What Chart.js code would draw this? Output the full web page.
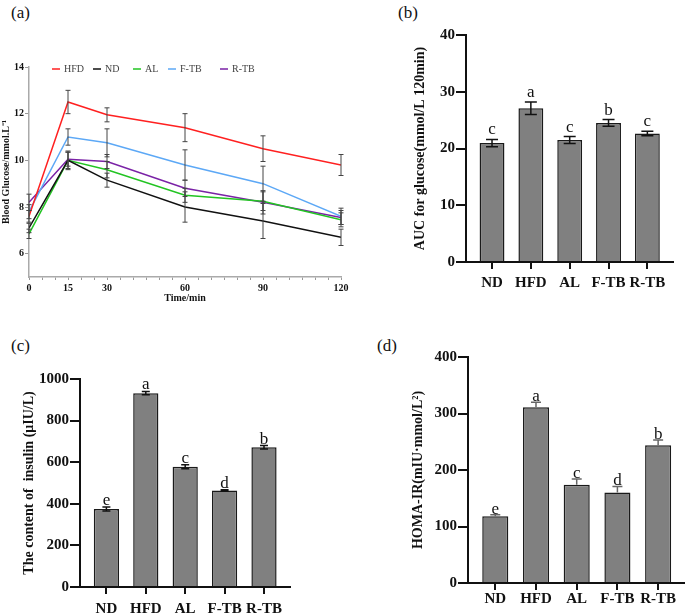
<!DOCTYPE html>
<html>
<head>
<meta charset="utf-8">
<script src="https://cdn.jsdelivr.net/npm/chart.js"></script>
<style>
  body { margin: 0; width: 685px; height: 616px; background: #fff; position: relative; overflow: hidden; font-family: "Liberation Serif", serif; }
  canvas { position: absolute; }
  .lab { position: absolute; font-size: 17px; color: #111; line-height: 1; }
</style>
</head>
<body>
<div class="lab" style="left:11px;top:4px">(a)</div>
<div class="lab" style="left:398px;top:4px">(b)</div>
<div class="lab" style="left:11px;top:337px">(c)</div>
<div class="lab" style="left:377px;top:337px">(d)</div>

<canvas id="chartA" width="355" height="256" style="left:0;top:50px"></canvas>
<canvas id="chartB" width="345" height="285" style="left:340px;top:20px"></canvas>
<canvas id="chartC" width="340" height="256" style="left:0;top:360px"></canvas>
<canvas id="chartD" width="345" height="276" style="left:340px;top:340px"></canvas>

<script>
// ---- data ----
const groups = ["ND", "HFD", "AL", "F-TB", "R-TB"];

// (a) OGTT
const times = [0, 15, 30, 60, 90, 120];
const timeTicks = [0, 15, 30, 60, 90, 120];
const glucoseTicks = [6, 8, 10, 12, 14];
const glucHFD = [7.6, 12.5, 11.95, 11.4, 10.5, 9.8];
const glucND = [7.1, 10.0, 9.15, 8.0, 7.4, 6.7];
const glucAL = [6.85, 10.0, 9.6, 8.5, 8.25, 7.45];
const glucFTB = [7.8, 11.0, 10.75, 9.8, 9.0, 7.6];
const glucRTB = [8.2, 10.05, 9.95, 8.8, 8.2, 7.55];
const errHFD = [0.25, 0.5, 0.3, 0.6, 0.55, 0.45];
const errND = [0.2, 0.35, 0.3, 0.65, 0.75, 0.35];
const errAL = [0.2, 0.4, 0.35, 0.3, 0.4, 0.3];
const errFTB = [0.3, 0.35, 0.6, 0.65, 0.75, 0.35];
const errRTB = [0.35, 0.3, 0.3, 0.35, 0.5, 0.3];

// (b) AUC
const aucVals = [20.95, 27.1, 21.5, 24.5, 22.65];
const aucErr = [0.65, 1.1, 0.6, 0.6, 0.4];
const aucLetters = ["c", "a", "c", "b", "c"];
const aucTicks = [0, 10, 20, 30, 40];

// (c) insulin
const insVals = [375, 932, 578, 464, 672];
const insErr = [10, 8, 10, 3, 8];
const insLetters = ["e", "a", "c", "d", "b"];
const insTicks = [0, 200, 400, 600, 800, 1000];

// (d) HOMA-IR
const homaVals = [118, 311, 174, 160, 244];
const homaErr = [3, 9, 10, 11, 9];
const homaLetters = ["e", "a", "c", "d", "b"];
const homaTicks = [0, 100, 200, 300, 400];

// ---- plugins ----
const errorBars = {
  id: "errorBars",
  afterDatasetsDraw(chart, args, opts) {
    const ctx = chart.ctx;
    const yS = chart.scales.y;
    ctx.save();
    ctx.strokeStyle = opts.color || "#000";
    ctx.lineWidth = opts.width || 1;
    chart.data.datasets.forEach((ds, di) => {
      if (!ds.errors) return;
      const meta = chart.getDatasetMeta(di);
      meta.data.forEach((el, i) => {
        const v = ds.data[i].y, e = ds.errors[i];
        const x = el.x;
        const top = yS.getPixelForValue(v + e);
        const bot = yS.getPixelForValue(opts.upperOnly ? v : v - e);
        const c = opts.cap || 4;
        ctx.beginPath();
        ctx.moveTo(x, top); ctx.lineTo(x, bot);
        ctx.moveTo(x - c, top); ctx.lineTo(x + c, top);
        if (!opts.upperOnly) { ctx.moveTo(x - c, bot); ctx.lineTo(x + c, bot); }
        ctx.stroke();
      });
    });
    ctx.restore();
  }
};

const sigLetters = {
  id: "sigLetters",
  afterDatasetsDraw(chart, args, opts) {
    const ctx = chart.ctx;
    const yS = chart.scales.y;
    ctx.save();
    ctx.fillStyle = "#111";
    ctx.font = (opts.size || 17) + 'px "Liberation Serif"';
    ctx.textAlign = "center";
    ctx.textBaseline = "alphabetic";
    chart.data.datasets.forEach((ds, di) => {
      if (!ds.letters) return;
      const meta = chart.getDatasetMeta(di);
      meta.data.forEach((el, i) => {
        const y = yS.getPixelForValue(ds.data[i].y + ds.errors[i]) - (opts.gap || 3);
        ctx.fillText(ds.letters[i], el.x, y);
      });
    });
    ctx.restore();
  }
};

const lineLegend = {
  id: "lineLegend",
  afterDraw(chart, args, opts) {
    if (!opts.xs) return;
    const ctx = chart.ctx;
    ctx.save();
    ctx.font = '10px "Liberation Serif"';
    ctx.textBaseline = "middle";
    ctx.fillStyle = "#444";
    chart.data.datasets.forEach((ds, i) => {
      const x = opts.xs[i];
      ctx.strokeStyle = ds.borderColor;
      ctx.lineWidth = 1.5;
      ctx.beginPath(); ctx.moveTo(x, opts.y); ctx.lineTo(x + 8, opts.y); ctx.stroke();
      ctx.fillText(ds.label, x + 12, opts.y);
    });
    ctx.restore();
  }
};

// ---- (a) ----
const pts = arr => times.map((t, i) => ({ x: t, y: arr[i] }));
const lineSet = (label, arr, err, color) => ({
  label, data: pts(arr), errors: err, borderColor: color, backgroundColor: color,
  borderWidth: 1.5, pointRadius: 0, tension: 0, fill: false
});

new Chart(document.getElementById("chartA"), {
  type: "line",
  plugins: [errorBars, lineLegend],
  data: {
    datasets: [
      lineSet("HFD", glucHFD, errHFD, "#ff2020"),
      lineSet("ND", glucND, errND, "#111111"),
      lineSet("AL", glucAL, errAL, "#22c422"),
      lineSet("F-TB", glucFTB, errFTB, "#5ca8f6"),
      lineSet("R-TB", glucRTB, errRTB, "#7a22a6"),
    ],
  },
  options: {
    responsive: false,
    animation: false,
    layout: { padding: { top: 17, right: 14, left: 0, bottom: 0 } },
    plugins: {
      legend: { display: false },
      tooltip: { enabled: false },
      errorBars: { color: "#444", width: 1, cap: 2.5 },
      lineLegend: { xs: [52, 93, 133, 168, 220], y: 19 },
    },
    scales: {
      x: {
        type: "linear", min: 0, max: 120,
        afterBuildTicks: s => { const t = []; for (let v = 0; v <= 120; v += 5) t.push({ value: v }); s.ticks = t; },
        afterFit: s => { s.height = 29; },
        ticks: {
          autoSkip: false, maxRotation: 0, padding: 2, color: "#111",
          font: { family: "Liberation Serif", size: 10, weight: "bold" },
          callback: v => (timeTicks.includes(v) ? String(v) : ""),
        },
        grid: { drawOnChartArea: false, tickLength: 3, color: "#999" },
        border: { color: "#aaa", width: 1.5 },
        title: { display: true, text: "Time/min", color: "#111", padding: { top: 0, bottom: 2 },
          font: { family: "Liberation Serif", size: 10, weight: "bold" } },
      },
      y: {
        min: 5, max: 14,
        afterBuildTicks: s => { s.ticks = glucoseTicks.map(v => ({ value: v })); },
        afterFit: s => { s.width = 29; },
        ticks: { padding: 1, color: "#111", font: { family: "Liberation Serif", size: 10, weight: "bold" },
          callback: v => String(v) },
        grid: { drawOnChartArea: false, tickLength: 4, color: "#999" },
        border: { color: "#aaa", width: 1.5 },
        title: { display: true, text: "Blood Glucose/mmol.L\u207B\u00B9", color: "#111", padding: 0,
          font: { family: "Liberation Serif", size: 10, weight: "bold" } },
      },
    },
  },
});

// ---- bar panels ----
function barPanel(id, vals, errs, letters, yTicks, yTitle, cfg) {
  return new Chart(document.getElementById(id), {
    type: "bar",
    plugins: [errorBars, sigLetters],
    data: {
      datasets: [{
        data: vals.map((v, i) => ({ x: i, y: v })),
        errors: errs, letters: letters,
        backgroundColor: "#808080", borderColor: "#1a1a1a", borderWidth: 1.5,
        categoryPercentage: 1, barPercentage: 0.64,
      }],
    },
    options: {
      responsive: false,
      animation: false,
      layout: { padding: cfg.padding },
      plugins: {
        legend: { display: false },
        tooltip: { enabled: false },
        errorBars: cfg.err,
        sigLetters: { size: 17, gap: cfg.letterGap },
      },
      scales: {
        x: {
          type: "linear", min: -0.67, max: 4.66, offset: false,
          afterBuildTicks: s => { s.ticks = groups.map((g, i) => ({ value: i })); },
          afterFit: s => { s.height = cfg.xHeight; },
          ticks: {
            autoSkip: false, maxRotation: 0, padding: cfg.xPad, color: "#111",
            font: { family: "Liberation Serif", size: 15, weight: "bold" },
            callback: v => groups[v],
          },
          grid: { offset: false, drawOnChartArea: false, tickLength: 7, color: "#111", lineWidth: 2 },
          border: { color: "#111", width: 2 },
        },
        y: {
          min: yTicks[0], max: yTicks[yTicks.length - 1],
          afterBuildTicks: s => { s.ticks = yTicks.map(v => ({ value: v })); },
          afterFit: s => { s.width = cfg.yWidth; },
          ticks: { padding: 1, color: "#111", font: { family: "Liberation Serif", size: 15, weight: "bold" },
            callback: v => String(v) },
          grid: { drawOnChartArea: false, tickLength: 10, color: "#111", lineWidth: 2 },
          border: { color: "#111", width: 2 },
          title: { display: true, text: yTitle, color: "#111", padding: 0,
            font: { family: "Liberation Serif", size: 14, weight: "bold" } },
        },
      },
    },
  });
}

barPanel("chartB", aucVals, aucErr, aucLetters, aucTicks, "AUC for glucose(mmol/L 120min)", {
  padding: { top: 15, right: 12, left: 72, bottom: 0 }, yWidth: 54, xHeight: 43, xPad: 5,
  err: { color: "#111", width: 1.5, cap: 6 }, letterGap: 5,
});

barPanel("chartC", insVals, insErr, insLetters, insTicks, "The content of  insulin (\u03BCIU/L)", {
  padding: { top: 19, right: 50, left: 21, bottom: 0 }, yWidth: 59, xHeight: 29, xPad: 6,
  err: { color: "#111", width: 1.5, cap: 4 }, letterGap: 2,
});

barPanel("chartD", homaVals, homaErr, homaLetters, homaTicks, "HOMA-IR(mIU\u00B7mmol/L\u00B2)", {
  padding: { top: 17, right: 0, left: 70, bottom: 0 }, yWidth: 58, xHeight: 33, xPad: 0,
  err: { color: "#666", width: 1.5, cap: 5, upperOnly: true }, letterGap: 1,
});
</script>
</body>
</html>
